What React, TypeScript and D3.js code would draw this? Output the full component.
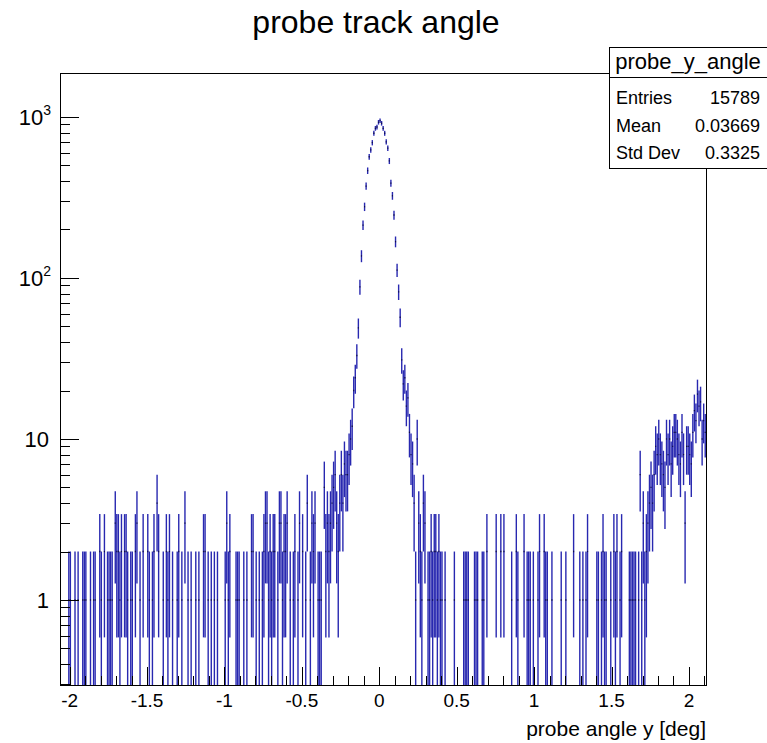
import React from 'react';
import * as d3 from 'd3';

// histogram binning (deg)
const BIN_LO = -2.06;
const BIN_W = 0.01;

// bin contents (left to right)
const leftTail = [
  0, 0, 0, 0, 0, 1, 1, 0, 0, 1, 0, 1, 0, 0, 1, 1, 1, 0, 0, 1,
  0, 1, 1, 0, 0, 2, 1, 0, 2, 0, 1, 1, 1, 1, 0, 3, 2, 2, 1, 2,
  0, 2, 2, 1, 0, 1, 1, 0, 2, 3, 0, 1, 0, 2, 0, 0, 2, 1, 0, 1,
  2, 0, 4,
];
const leftMid = [
  2, 0, 0, 1, 0, 2, 1, 2, 0, 1, 0, 0, 1, 2, 0, 1, 0, 3, 0, 1,
  0, 1, 0, 0, 1, 0, 1, 0, 0, 2, 2, 0, 1, 0, 1, 0, 1, 0, 1, 0,
  0, 0, 0, 1, 3, 1, 2, 0, 0, 0, 1, 1, 1, 0, 0, 1, 0, 1, 0, 0,
  2, 2, 0, 1,
];
const leftShoulder = [
  0, 1, 0, 1, 2, 3, 3, 1, 2, 1, 2, 2, 0, 1, 3, 3, 1, 2, 2, 3,
  0, 1, 0, 1, 2, 0, 1, 3, 0, 2, 0, 1, 4, 0, 1, 3, 2, 3, 0, 1,
  1, 1, 0, 5, 2, 3, 2, 3, 4, 5, 6, 3, 2, 4, 6, 4, 7, 6, 6, 8,
  10, 12, 20, 24,
];
const peak = [
  33, 49, 88, 137, 213, 277, 372, 464, 566, 624,
  692, 792, 850, 866, 927, 949, 914, 850, 792, 700,
  640, 533, 388, 324, 246, 168, 112, 82, 57, 31,
];
const rightShoulder = [
  22, 24, 16, 18, 11, 8, 7, 4, 1, 10, 3, 2, 1, 4, 3, 0, 1, 1, 2, 1,
  2, 2, 1, 2, 1, 1, 0, 1, 0, 0, 0, 0, 0, 1, 0, 0, 0, 0, 0, 1,
  1, 1, 1, 0, 0, 0, 1, 1, 1, 0, 0, 1, 1, 0, 2, 0, 0, 0, 0, 0,
  2, 0,
];
const rightFlat = [
  0, 2, 0, 2, 0, 0, 0, 0, 1, 0, 0, 2, 1, 0, 0, 0, 2, 0, 1, 1,
  1, 0, 1, 0, 0, 1, 2, 0, 0, 2, 1, 1, 0, 0, 1, 0, 0, 0, 0, 0,
  1, 0, 0, 1, 0, 0, 0, 0, 2, 0, 0, 0, 1, 0, 1, 0, 1, 2, 0, 0,
  0, 0, 0, 1, 1, 0, 1, 2,
];
const rightRise = [
  1, 1, 0, 0, 1, 0, 2, 1, 2, 0, 1, 2, 0, 0, 0, 0, 1, 1, 1, 1,
  1, 0, 1, 6, 1, 3, 1, 2, 3, 4, 5, 4, 6, 9, 8, 10, 8, 7, 6, 5,
  10, 8, 10, 7, 9, 11, 11, 10, 8, 7, 11, 8, 3, 9, 9, 8, 7, 11, 15, 13,
  19, 16, 17, 10, 13, 11,
];

const xTickLabels = ['-2', '-1.5', '-1', '-0.5', '0', '0.5', '1', '1.5', '2'];
const xTickValues = [-2, -1.5, -1, -0.5, 0, 0.5, 1, 1.5, 2];

const statsName = 'probe_y_angle';
const statsRows = [
  ['Entries', '15789'],
  ['Mean', '0.03669'],
  ['Std Dev', '0.3325'],
];

const counts = [...leftTail, ...leftMid, ...leftShoulder, ...peak, ...rightShoulder, ...rightFlat, ...rightRise];

const W = 767, H = 743;
const FL = 60, FR = 706, FT = 73, FB = 685;
const FONT = '"Liberation Sans", Arial, Helvetica, sans-serif';
const BLUE = '#2828b0';

const App = () => {
  const nBins = counts.length;
  const xMax = BIN_LO + nBins * BIN_W;
  const x = d3.scaleLinear().domain([BIN_LO, xMax]).range([FL + 0.3, FR]);
  const yMin = 0.2965, yMax = 1875;
  const y = d3.scaleLog().domain([yMin, yMax]).range([FB, FT]).clamp(true);

  const bins = counts.map((c, i) => {
    const lo = BIN_LO + i * BIN_W;
    return { lo, hi: lo + BIN_W, c };
  });

  // x axis ticks every 0.1, major every 0.5
  const xTicks = d3.range(-21, 22).map(k => k / 10).filter(v => v >= BIN_LO && v <= xMax);

  // log y ticks
  const yTicks: { v: number; major: boolean }[] = [];
  for (let d = -1; d <= 3; d++) {
    for (let k = 1; k <= 9; k++) {
      const v = k * Math.pow(10, d);
      if (v >= yMin && v <= yMax) yTicks.push({ v, major: k === 1 });
    }
  }
  const yLabels = [
    { v: 1, base: '1', sup: '' },
    { v: 10, base: '10', sup: '' },
    { v: 100, base: '10', sup: '2' },
    { v: 1000, base: '10', sup: '3' },
  ];

  return (
    <svg width={W} height={H} style={{ position: 'absolute', left: 0, top: 0, background: '#fff' }}
      fontFamily={FONT}>
      <rect x={0} y={0} width={W} height={H} fill="#fff" />
      <text x={376} y={33} fontSize={32} textAnchor="middle" fill="#000">probe track angle</text>

      <defs>
        <clipPath id="frameClip">
          <rect x={FL} y={FT} width={FR - FL} height={FB - FT} />
        </clipPath>
      </defs>

      <g clipPath="url(#frameClip)">
        {bins.filter(b => b.c > 0).map((b, i) => {
          const xc = x((b.lo + b.hi) / 2);
          const e = Math.sqrt(b.c);
          const top = y(b.c + e);
          const bot = b.c - e > 0 ? y(b.c - e) : FB;
          return (
            <g key={i}>
              <line x1={xc} x2={xc} y1={top} y2={bot} stroke={BLUE} strokeWidth={1.4} />
              <line x1={x(b.lo) + 0.2} x2={x(b.hi) - 0.2} y1={y(b.c)} y2={y(b.c)} stroke="#111144" strokeWidth={1.3} />
            </g>
          );
        })}
      </g>

      {/* frame */}
      <rect x={FL + 0.5} y={FT + 0.5} width={FR - FL} height={FB - FT} fill="none" stroke="#000" strokeWidth={1} />

      {/* x ticks */}
      {xTicks.map((v, i) => {
        const major = Math.abs(v * 2 - Math.round(v * 2)) < 1e-6;
        const px = Math.round(x(v)) + 0.5;
        return <line key={i} x1={px} x2={px} y1={FB} y2={FB - (major ? 18 : 9)} stroke="#000" strokeWidth={1} />;
      })}
      {xTickValues.map((v, i) => (
        <text key={i} x={x(v)} y={707} fontSize={19} textAnchor="middle" fill="#000">{xTickLabels[i]}</text>
      ))}
      <text x={FR} y={736} fontSize={21} textAnchor="end" fill="#000">probe angle y [deg]</text>

      {/* y ticks */}
      {yTicks.map((t, i) => {
        const py = Math.round(y(t.v)) + 0.5;
        return <line key={i} x1={FL} x2={FL + (t.major ? 19 : 10)} y1={py} y2={py} stroke="#000" strokeWidth={1} />;
      })}
      {yLabels.map((l, i) => (
        <text key={i} x={l.sup ? 51 : 49} y={y(l.v) + 8} fontSize={22} textAnchor="end" fill="#000">
          {l.base}
          {l.sup && <tspan fontSize={14} dy={-10}>{l.sup}</tspan>}
        </text>
      ))}

      {/* stats box */}
      <rect x={609.5} y={47.5} width={170} height={121} fill="#fff" stroke="#000" strokeWidth={1} />
      <line x1={609} x2={W} y1={77.5} y2={77.5} stroke="#000" strokeWidth={1} />
      <text x={688} y={69} fontSize={22} textAnchor="middle" fill="#000">{statsName}</text>
      {statsRows.map((r, i) => (
        <g key={i}>
          <text x={616} y={104 + i * 27.5} fontSize={18} fill="#000">{r[0]}</text>
          <text x={760} y={104 + i * 27.5} fontSize={18} textAnchor="end" fill="#000">{r[1]}</text>
        </g>
      ))}
    </svg>
  );
};

export default App;
